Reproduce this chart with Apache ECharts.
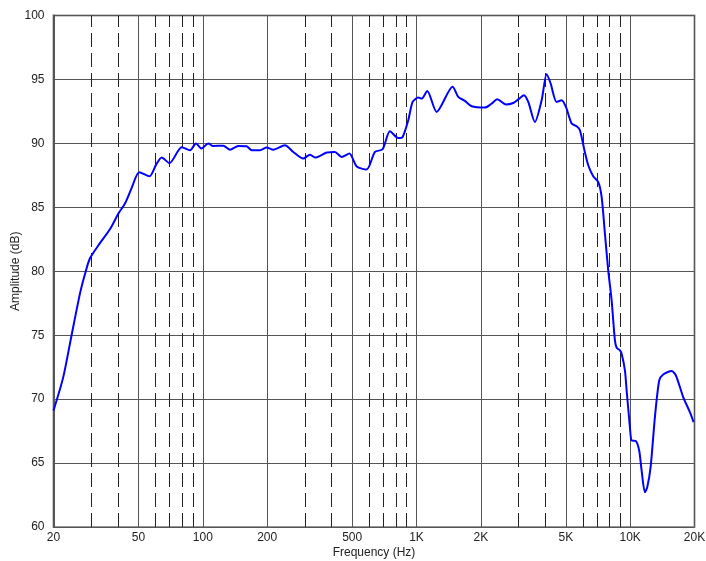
<!DOCTYPE html>
<html>
<head>
<meta charset="utf-8">
<script src="https://cdn.jsdelivr.net/npm/echarts@6/dist/echarts.min.js"></script>
<style>
html,body{margin:0;padding:0;background:#fff;}
#chart{width:706px;height:561px;}
</style>
</head>
<body>
<div id="chart"></div>
<script>
// Frequency (Hz) and amplitude (dB)
const freqHz = [20, 22.2, 24.3, 26.6, 28.1, 29.6, 33.0, 36.8, 40.2, 43.2, 46.4, 50.4, 56.3, 60.3, 64.2, 69.8,
  79.6, 87.1, 92.9, 98.5, 106, 111, 124.6, 134, 146.5, 160.4, 169.3, 185.1, 198.9, 213.6, 242.2, 265,
  295, 317, 335, 380, 415, 446, 485, 525, 584, 639, 694, 751, 821, 861, 915, 959, 1019, 1057, 1123,
  1242, 1476, 1568, 1685, 1811, 2090, 2246, 2386, 2622, 2836, 3026, 3182, 3334, 3582, 3851, 4064,
  4244, 4524, 4777, 5003, 5322, 5616, 5818, 6138, 6364, 6714, 7085, 7351, 7617, 7893, 8188, 8484,
  8642, 8955, 9120, 9449, 9625, 9972, 10156, 10638, 11024, 11314, 11722, 12016, 12462, 13054, 13672,
  14274, 15626, 16366, 17704, 19032, 19800];
const amplitudeDb = [69.1, 71.7, 75.0, 78.25, 79.8, 81.0, 82.2, 83.3, 84.5, 85.3, 86.5, 87.75, 87.43, 88.3, 88.9, 88.45,
  89.7, 89.46, 90.0, 89.6, 90.0, 89.8, 89.82, 89.5, 89.8, 89.78, 89.46, 89.46, 89.67, 89.5, 89.85, 89.33,
  88.81, 89.12, 88.89, 89.28, 89.33, 88.94, 89.2, 88.2, 87.95, 89.33, 89.54, 90.95, 90.42, 90.5, 91.81, 93.24, 93.58, 93.5, 94.1,
  92.46, 94.42, 93.63, 93.32, 92.9, 92.8, 93.11, 93.45, 93.04, 93.16, 93.5, 93.76, 93.24, 91.67, 93.37, 95.4,
  94.68, 93.24, 93.37, 92.85, 91.55, 91.34, 91.03, 89.3, 88.29, 87.43, 86.98, 85.81, 82.94, 80.07, 77.72, 74.59,
  74.02, 73.81, 73.55, 72.25, 70.68, 67.81, 66.77, 66.72, 65.96, 64.4, 62.72, 63.1, 64.68, 68.59, 71.46,
  71.93, 72.19, 71.85, 70.16, 68.98, 68.2];

// Grid / tick definitions
const majorTicks = [20, 50, 100, 200, 500, 1000, 2000, 5000, 10000, 20000];
const majorLabels = ['20', '50', '100', '200', '500', '1K', '2K', '5K', '10K', '20K'];
const minorTicks = [30, 40, 60, 70, 80, 90, 300, 400, 600, 700, 800, 900,
  3000, 4000, 6000, 7000, 8000, 9000];

const FONT = 'Arial, "Liberation Sans", sans-serif';

const gridLines = [];
majorTicks.forEach((v, i) => {
  gridLines.push({
    xAxis: v, name: majorLabels[i],
    lineStyle: {color: '#555', width: 1, type: 'solid'},
    label: {show: true, position: 'start', formatter: '{b}', distance: 5,
      color: '#222', fontSize: 12, fontFamily: FONT}
  });
});
minorTicks.forEach(v => {
  gridLines.push({
    xAxis: v,
    lineStyle: {color: '#222', width: 1, type: [14, 6]},
    label: {show: false}
  });
});

const chart = echarts.init(document.getElementById('chart'), null, {renderer: 'canvas'});
chart.setOption({
  animation: false,
  backgroundColor: '#fff',
  grid: {left: 53.5, right: 11.5, top: 15.5, bottom: 34, show: true,
    containLabel: false, outerBoundsMode: 'none',
    borderColor: '#999', borderWidth: 2, backgroundColor: 'transparent'},
  xAxis: {
    type: 'log', logBase: 10, min: 20, max: 20000,
    name: 'Frequency (Hz)', nameLocation: 'middle', nameGap: 20, nameMoveOverlap: false,
    nameTextStyle: {color: '#222', fontSize: 12, fontFamily: FONT},
    axisLine: {show: false}, axisTick: {show: false},
    axisLabel: {show: false}, splitLine: {show: false}, minorSplitLine: {show: false}
  },
  yAxis: {
    type: 'value', min: 60, max: 100, interval: 5,
    name: 'Amplitude (dB)', nameLocation: 'middle', nameGap: 32, nameMoveOverlap: false,
    nameTextStyle: {color: '#222', fontSize: 12, fontFamily: FONT},
    axisLine: {show: true, lineStyle: {color: '#555', width: 2}},
    axisTick: {show: false},
    axisLabel: {color: '#222', fontSize: 12, fontFamily: FONT, margin: 9},
    splitLine: {show: true, lineStyle: {color: '#555', width: 1}}
  },
  series: [{
    type: 'line',
    data: freqHz.map((f, i) => [f, amplitudeDb[i]]),
    showSymbol: false,
    smooth: 0.25,
    lineStyle: {color: '#0000ff', width: 2},
    z: 5,
    markLine: {
      silent: true, symbol: ['none', 'none'], animation: false,
      z: 1,
      data: gridLines
    }
  }]
});
</script>
</body>
</html>
